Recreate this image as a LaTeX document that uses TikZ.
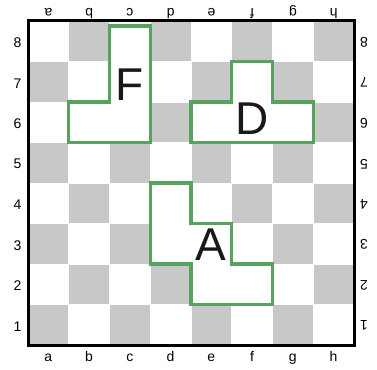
\documentclass[tikz,border=0pt]{standalone}
\usepackage{fontspec}
\setmainfont{Liberation Sans}
\definecolor{sqgray}{RGB}{200,200,200}
\definecolor{pgreen}{RGB}{88,162,96}
\begin{document}
\begin{tikzpicture}[x=1pt,y=-1pt,
  lbl/.style={font=\fontsize{14}{16}\selectfont, inner sep=0pt},
  darksq/.style={fill=sqgray, draw=white, line width=0.8pt},
  piece/.style={draw=pgreen, line width=3.2pt, fill=white, line join=miter},
  big/.style={font=\fontsize{46}{50}\selectfont, inner sep=0pt, text=black!90},
  border/.style={draw=black, line width=3pt}]
\useasboundingbox (0,0) rectangle (377,369);
\fill[white] (0,0) rectangle (377,369);
\foreach \c in {0,...,7} {
  \foreach \r in {1,...,8} {
    \pgfmathtruncatemacro\sqpar{mod(\c+\r,2)}
    \ifnum\sqpar=1
      \path[darksq] ({28+\c*40.75},{345-\r*40.5}) rectangle ({28+(\c+1)*40.75},{345-(\r-1)*40.5});
    \fi
  }
}
% pieces
\path[piece] (109.5,26) -- (150.25,26) -- (150.25,142.5) -- (68.75,142.5) -- (68.75,102) -- (109.5,102) -- cycle;
\path[piece] (231.75,61.5) -- (272.5,61.5) -- (272.5,102) -- (313.25,102) -- (313.25,142.5) -- (191,142.5) -- (191,102) -- (231.75,102) -- cycle;
\path[piece] (150.25,183) -- (191,183) -- (191,223.5) -- (231.75,223.5) -- (231.75,264) -- (272.5,264) -- (272.5,304.5) -- (191,304.5) -- (191,264) -- (150.25,264) -- cycle;
\node[big] (pF) at (129.5,85) {F};
\node[big] (pD) at (252,119) {D};
\node[big] (pA) at (211,245) {A};
% border
\path[border] (28,21) rectangle (354,345);
% labels
\foreach \c/\l in {0/a,1/b,2/c,3/d,4/e,5/f,6/g,7/h} {
  \node[lbl, anchor=base] (bot-\l) at ({28+(\c+0.5)*40.75},361.5) {\l};
  \node[lbl, anchor=base, rotate=180] (top-\l) at ({28+(\c+0.5)*40.75},8.5) {\l};
}
\foreach \r in {1,...,8} {
  \node[lbl] (left-\r) at (17.5,{345-(\r-0.5)*40.5+1.5}) {\r};
  \node[lbl, rotate=180] (right-\r) at (364,{345-(\r-0.5)*40.5+1}) {\r};
}
\end{tikzpicture}
\end{document}
